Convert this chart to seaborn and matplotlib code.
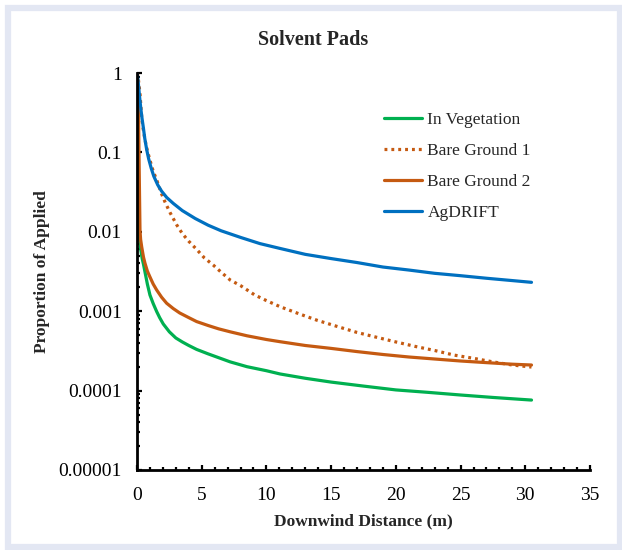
import numpy as np
import pandas as pd
import matplotlib
matplotlib.use("Agg")
import matplotlib.pyplot as plt
from matplotlib.patches import Rectangle
from matplotlib.ticker import MultipleLocator, LogLocator, FixedLocator, FixedFormatter, NullFormatter
import seaborn as sns

# ---- data ----
veg_x = [0.0, 0.05, 0.1, 0.15, 0.2, 0.3, 0.4, 0.5, 0.62, 0.8, 1.0, 1.25, 1.52, 1.75, 2.03, 2.5, 3.0,
         3.5, 4.0, 4.61, 5.5, 6.3, 7.2, 8.5, 10.0, 11.05, 13.0, 15.0, 17.5, 20.0, 22.5, 25.0, 27.5, 30.48]
veg_y = [1.0, 0.2, 0.03, 0.012, 0.008, 0.0058, 0.0046, 0.0039, 0.0031, 0.0022, 0.0016, 0.00125, 0.00099,
         0.00083, 0.00069, 0.00055, 0.00046, 0.00041, 0.00037, 0.00033, 0.00029, 0.00026, 0.00023, 0.0002,
         0.000178, 0.000162, 0.000143, 0.000128, 0.000114, 0.000102, 0.000095, 0.000088, 0.000082, 0.000076]

bg1_x = [0.0, 0.05, 0.1, 0.15, 0.23, 0.3, 0.36, 0.45, 0.62, 0.8, 1.0, 1.25, 1.52, 1.9, 2.2, 2.55, 3.07,
         3.5, 4.0, 4.61, 5.2, 5.9, 6.5, 7.2, 8.0, 9.1, 10.0, 11.05, 12.5, 13.9, 15.5, 17.0, 18.5, 20.0,
         21.5, 23.0, 24.5, 26.0, 27.5, 29.0, 30.48]
bg1_y = [1.0, 0.95, 0.85, 0.72, 0.555, 0.38, 0.281, 0.21, 0.143, 0.105, 0.08, 0.058, 0.045, 0.030, 0.023,
         0.0175, 0.0122, 0.0095, 0.0076, 0.006, 0.0047, 0.0038, 0.0031, 0.00247, 0.0021, 0.0016, 0.00136,
         0.00114, 0.00093, 0.00077, 0.00064, 0.00054, 0.00047, 0.00041, 0.00036, 0.00032, 0.00028,
         0.000255, 0.00023, 0.00021, 0.000198]

bg2_x = [0.0, 0.08, 0.12, 0.16, 0.2, 0.23, 0.28, 0.36, 0.5, 0.62, 0.8, 1.0, 1.25, 1.52, 1.9, 2.29, 2.8,
         3.3, 4.0, 4.61, 5.5, 6.3, 7.2, 8.5, 10.0, 11.05, 13.0, 15.0, 17.0, 19.0, 21.0, 23.0, 25.0, 27.0,
         29.0, 30.48]
bg2_y = [1.0, 0.6, 0.25, 0.08, 0.025, 0.0105, 0.008, 0.0065, 0.0048, 0.004, 0.0032, 0.0027, 0.0022,
         0.00185, 0.0015, 0.00126, 0.00108, 0.00095, 0.00083, 0.00074, 0.00066, 0.0006, 0.00055, 0.00049,
         0.00044, 0.000413, 0.00037, 0.00034, 0.00031, 0.000285, 0.000265, 0.00025, 0.000236, 0.000225,
         0.000215, 0.00021]

ag_x = [0.0, 0.05, 0.1, 0.2, 0.3, 0.4, 0.5, 0.6, 0.75, 0.9, 1.1, 1.3, 1.6, 1.9, 2.3, 2.8, 3.5, 4.5, 5.5,
        6.5, 8.0, 9.5, 11.0, 13.0, 15.0, 17.0, 19.0, 21.0, 23.0, 25.0, 27.0, 29.0, 30.48]
ag_y = [1.0, 0.9, 0.75, 0.5, 0.35, 0.26, 0.2, 0.15, 0.108, 0.083, 0.063, 0.05, 0.039, 0.0325, 0.027, 0.0228,
        0.0185, 0.0147, 0.0121, 0.0103, 0.0085, 0.0071, 0.0062, 0.0052, 0.0046, 0.0041, 0.0036, 0.0033,
        0.0030, 0.0028, 0.0026, 0.00243, 0.00231]

series_names = ["In Vegetation", "Bare Ground 1", "Bare Ground 2", "AgDRIFT"]
y_tick_vals = [1e-5, 1e-4, 1e-3, 1e-2, 1e-1, 1]
y_tick_labels = ["0.00001", "0.0001", "0.001", "0.01", "0.1", "1"]
x_tick_vals = [0, 5, 10, 15, 20, 25, 30, 35]

title_text = "Solvent Pads"
xlabel_text = "Downwind Distance (m)"
ylabel_text = "Proportion of Applied"

# ---- style ----
sns.set_style("white")
plt.rcParams["font.family"] = ["Liberation Serif", "DejaVu Serif"]

W, H = 622, 550
fig = plt.figure(figsize=(W / 100, H / 100), dpi=100)
fig.patch.set_facecolor("white")

# light frame around the figure
fig.patches.append(Rectangle((8 / W, 3 / H), (619.5 - 8) / W, (542 - 3) / H,
                             transform=fig.transFigure, fill=False,
                             edgecolor="#E3E7F3", linewidth=4.5, zorder=0))

ax = fig.add_axes([137 / W, 1 - 470 / H, (590 - 137) / W, (470 - 73) / H])

colors = {"In Vegetation": "#00B050", "Bare Ground 1": "#C55A11",
          "Bare Ground 2": "#C55A11", "AgDRIFT": "#0070C0"}
data = {"In Vegetation": (veg_x, veg_y), "Bare Ground 1": (bg1_x, bg1_y),
        "Bare Ground 2": (bg2_x, bg2_y), "AgDRIFT": (ag_x, ag_y)}

for name in series_names:
    xs, ys = data[name]
    df = pd.DataFrame({"x": xs, "y": ys})
    ls = (0, (0.9, 1.25)) if name == "Bare Ground 1" else "-"
    sns.lineplot(data=df, x="x", y="y", ax=ax, color=colors[name], linewidth=2.3,
                 linestyle=ls, label=name, sort=False, estimator=None)

ax.set_yscale("log")
ax.set_xlim(0, 35)
ax.set_ylim(1e-5, 1)

ax.xaxis.set_major_locator(FixedLocator(x_tick_vals))
ax.xaxis.set_minor_locator(MultipleLocator(1))
ax.yaxis.set_major_locator(FixedLocator(y_tick_vals))
ax.yaxis.set_major_formatter(FixedFormatter(y_tick_labels))
ax.yaxis.set_minor_locator(LogLocator(base=10, subs=np.arange(2, 10), numticks=20))
ax.yaxis.set_minor_formatter(NullFormatter())

for s in ["top", "right"]:
    ax.spines[s].set_visible(False)
for s in ["left", "bottom"]:
    ax.spines[s].set_linewidth(2.0)
    ax.spines[s].set_color("black")

ax.tick_params(which="both", bottom=True, left=True, top=False, right=False)
ax.tick_params(which="major", direction="in", length=3.5, width=1.6, labelsize=14,
               colors="black")
ax.tick_params(axis="x", which="major", pad=12)
ax.tick_params(axis="y", which="major", pad=11)
ax.tick_params(which="minor", direction="in", length=2.5, width=1.6, colors="black")

ax.set_xlabel(xlabel_text, fontsize=12.5, fontweight="bold", labelpad=7)
ax.set_ylabel(ylabel_text, fontsize=12.5, fontweight="bold", labelpad=6)
fig.text(313 / W, 1 - 40 / H, title_text, ha="center", va="center",
         fontsize=14.5, fontweight="bold")

leg = ax.legend(loc="upper left", bbox_to_anchor=(384 / W, 1 - 112 / H),
                bbox_transform=fig.transFigure, frameon=False, fontsize=12.5,
                handlelength=2.2, handletextpad=0.3, labelspacing=0.86,
                borderpad=0, borderaxespad=0)
ax.grid(False)

fig.savefig("out.png", dpi=100, facecolor="white")
